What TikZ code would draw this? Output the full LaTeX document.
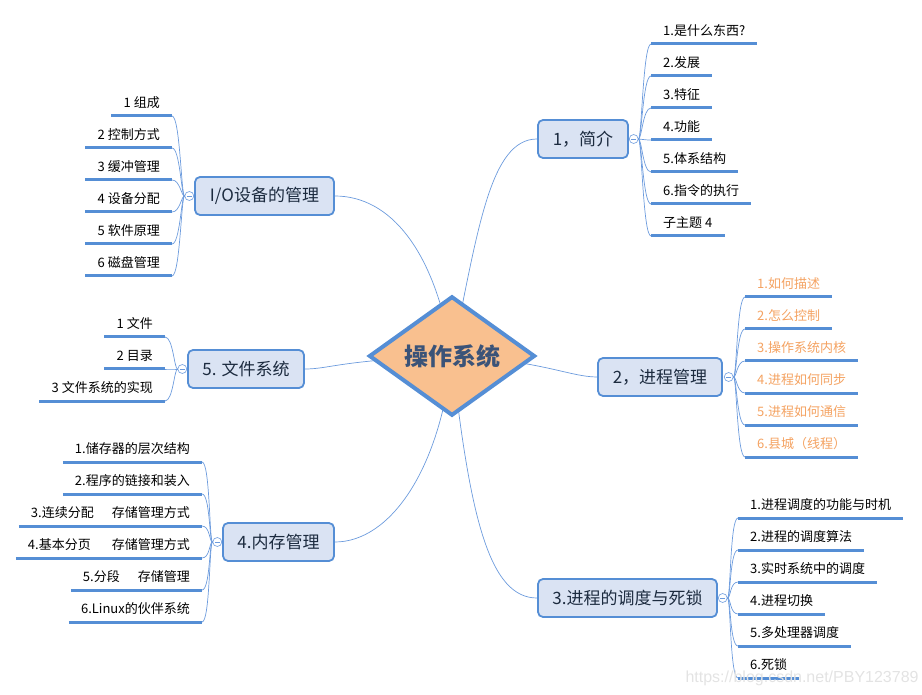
\documentclass[tikz,border=0pt]{standalone}
\usepackage{fontspec}
\setmainfont{Noto Sans CJK SC}
\newfontfamily\markfont{Liberation Sans}
\usetikzlibrary{shapes.geometric, positioning, backgrounds}
\definecolor{xblue}{HTML}{558ED5}
\definecolor{xlink}{HTML}{6C9BDD}
\definecolor{xfill}{HTML}{DAE3F3}
\definecolor{xcore}{HTML}{F9C08F}
\definecolor{xcoretext}{HTML}{3B5378}
\definecolor{xorange}{HTML}{F4A261}
\definecolor{xtext}{HTML}{1C2B3F}
\tikzstyle{branch} = [xlink, line width=0.7pt]
\tikzset{
  core/.style    = {diamond, draw = xblue, fill = xcore, line width = 4pt,
                    minimum width = 166pt, minimum height = 96pt, inner sep = 0pt,
                    text = xcoretext, font = \fontsize{24pt}{28pt}\selectfont\bfseries},
  topic/.style   = {rectangle, rounded corners = 5pt, draw = xblue, fill = xfill,
                    line width = 1.8pt, minimum height = 38pt, inner sep = 0pt,
                    text = xtext, font = \fontsize{17pt}{20pt}\selectfont},
  knob/.style    = {circle, draw = xlink, fill = white, line width = 0.6pt,
                    minimum size = 9pt, inner sep = 0pt,
                    path picture = {\draw[xlink, line width = 0.6pt]
                      ([xshift=-2.5pt]path picture bounding box.center) --
                      ([xshift=2.5pt]path picture bounding box.center);}},
  leaf/.style    = {inner xsep = 12pt, inner ysep = 5pt, text height = 10pt,
                    text depth = 3pt, font = \fontsize{13pt}{15pt}\selectfont},
  leafline/.style = {xblue, line width = 3pt},
  watermark/.style = {text = gray!22, font = \markfont\fontsize{16pt}{18pt}\selectfont}
}

\begin{document}
\begin{tikzpicture}[x=1pt, y=-1pt]
  \useasboundingbox (0,0) rectangle (922,695);

  % Central topic
  \node (core) [core] at (452,356) {操作系统};

  % Main topics
  \node (topic1) [topic, minimum width = 90pt]  at (583,139)   {1，简介};
  \node (topic2) [topic, minimum width = 124pt] at (660,377)   {2，进程管理};
  \node (topic3) [topic, minimum width = 179pt] at (627.5,598) {3.进程的调度与死锁};
  \node (topic4) [topic, minimum width = 111pt] at (278.5,542) {4.内存管理};
  \node (topic5) [topic, minimum width = 116pt] at (246,369)   {5. 文件系统};
  \node (topic6) [topic, minimum width = 139pt] at (264.5,196) {I/O设备的管理};

  % Collapse knobs
  \node (c1) [knob, right = 0pt of topic1] {};
  \node (c2) [knob, right = 1pt of topic2] {};
  \node (c3) [knob, right = 0pt of topic3] {};
  \node (c4) [knob, left = 0pt of topic4] {};
  \node (c5) [knob, left = 0pt of topic5] {};
  \node (c6) [knob, left = 0pt of topic6] {};

  % Connect main topics to the center
  \begin{scope}[on background layer]
    \draw[branch] (core.center) .. controls (478,230) and (490,139) .. (topic1.west);
    \draw[branch] (core.center) .. controls (540,360) and (570,377) .. (topic2.west);
    \draw[branch] (core.center) .. controls (470,520) and (490,598) .. (topic3.west);
    \draw[branch] (core.center) .. controls (440,470) and (390,542) .. (topic4.east);
    \draw[branch] (core.center) .. controls (340,360) and (330,369) .. (topic5.east);
    \draw[branch] (core.center) .. controls (435,250) and (390,196) .. (topic6.east);
  \end{scope}

  % 1，简介
  \foreach[count=\i] \txt in {1.是什么东西?, 2.发展, 3.特征, 4.功能,
                              5.体系结构, 6.指令的执行, 子主题\ 4} {
    \node (intro\i) [leaf, anchor = south west] at (651, 12+32*\i) {\txt};
    \draw[branch] (c1) .. controls +(8,0) and +(-8,0) .. (intro\i.south west);
    \draw[leafline] (intro\i.south west) -- (intro\i.south east);
  }

  % 2，进程管理
  \foreach[count=\i] \txt in {1.如何描述, 2.怎么控制, 3.操作系统内核,
                              4.进程如何同步, 5.进程如何通信, 6.县城（线程）} {
    \node (proc\i) [leaf, anchor = south west, text = xorange] at (745, 265+32*\i) {\txt};
    \draw[branch] (c2) .. controls +(8,0) and +(-8,0) .. (proc\i.south west);
    \draw[leafline] (proc\i.south west) -- (proc\i.south east);
  }

  % 3.进程的调度与死锁
  \foreach[count=\i] \txt in {1.进程调度的功能与时机, 2.进程的调度算法, 3.实时系统中的调度,
                              4.进程切换, 5.多处理器调度, 6.死锁} {
    \node (sched\i) [leaf, anchor = south west] at (738, 486+32*\i) {\txt};
    \draw[branch] (c3) .. controls +(8,0) and +(-8,0) .. (sched\i.south west);
    \draw[leafline] (sched\i.south west) -- (sched\i.south east);
  }

  % 4.内存管理
  \foreach[count=\i] \txt in {1.储存器的层次结构, 2.程序的链接和装入,
                              3.连续分配\hspace{18pt}存储管理方式,
                              4.基本分页\hspace{21pt}存储管理方式,
                              5.分段\hspace{18pt}存储管理, 6.Linux的伙伴系统} {
    \node (mem\i) [leaf, anchor = south east] at (202, 430+32*\i) {\txt};
    \draw[branch] (c4) .. controls +(-8,0) and +(8,0) .. (mem\i.south east);
    \draw[leafline] (mem\i.south west) -- (mem\i.south east);
  }

  % 5. 文件系统
  \foreach[count=\i] \txt in {1 文件, 2 目录, 3 文件系统的实现} {
    \node (file\i) [leaf, anchor = south east] at (165, 305+32*\i) {\txt};
    \draw[branch] (c5) .. controls +(-8,0) and +(8,0) .. (file\i.south east);
    \draw[leafline] (file\i.south west) -- (file\i.south east);
  }

  % I/O设备的管理
  \foreach[count=\i] \txt in {1 组成, 2 控制方式, 3 缓冲管理, 4 设备分配,
                              5 软件原理, 6 磁盘管理} {
    \node (io\i) [leaf, anchor = south east] at (172, 84+32*\i) {\txt};
    \draw[branch] (c6) .. controls +(-8,0) and +(8,0) .. (io\i.south east);
    \draw[leafline] (io\i.south west) -- (io\i.south east);
  }

  \node (mark) [watermark, anchor = base west] at (682,682) {https://blog.csdn.net/PBY123789};
\end{tikzpicture}
\end{document}
